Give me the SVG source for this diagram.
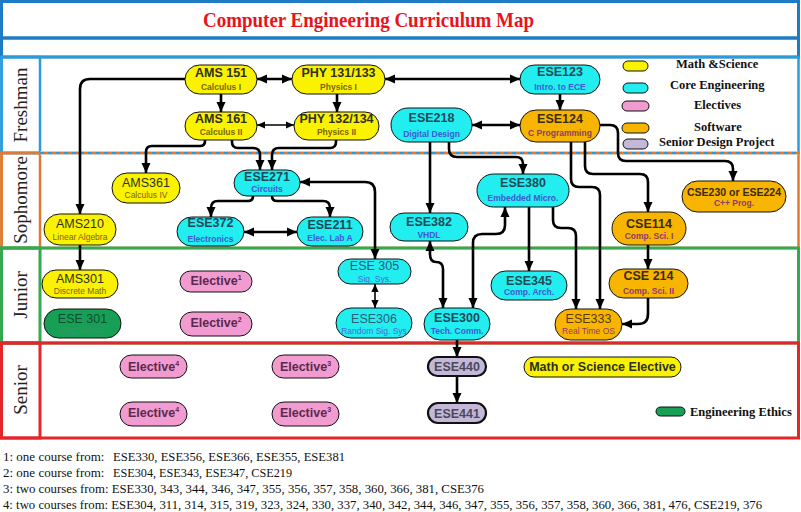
<svg xmlns="http://www.w3.org/2000/svg" width="801" height="512" viewBox="0 0 801 512">
<style>
.lane{fill:none}
.lbl{font-family:"Liberation Serif","Times New Roman",serif;font-size:19px;fill:#222}
.n{stroke:#111;stroke-width:1}
.y{fill:#fbf200}.c{fill:#22eef0}.o{fill:#f8b500}.p{fill:#f29bd0}.v{fill:#c4b8d8;stroke-width:2.2}.g{fill:#17a055}
.t{font-family:"Liberation Sans",Arial,sans-serif;font-size:12.5px;font-weight:bold;text-anchor:middle}
.tr{font-family:"Liberation Sans",Arial,sans-serif;font-size:12.5px;text-anchor:middle}
.s{font-family:"Liberation Sans",Arial,sans-serif;font-size:8.5px;font-weight:bold;text-anchor:middle}
.sr{font-family:"Liberation Sans",Arial,sans-serif;font-size:8.5px;text-anchor:middle}
.ty{fill:#2e2e22}.sy{fill:#7d6400}
.tc{fill:#1e4a58}.sc{fill:#3c5ad2}
.to{fill:#3a2a12}.so{fill:#8e3a6a}
.tp{fill:#5a2a4e}
.leg{font-family:"Liberation Serif","Times New Roman",serif;font-size:12.5px;font-weight:bold;fill:#111}
.fn{font-family:"Liberation Serif","Times New Roman",serif;font-size:13px;fill:#111}
.k{fill:none;stroke:#000;stroke-width:2.6;stroke-linejoin:round}
.kt{fill:none;stroke:#000;stroke-width:1.6}
</style>
<defs>
<marker id="ah" markerUnits="userSpaceOnUse" viewBox="0 0 10 10" markerWidth="10" markerHeight="10" refX="10" refY="5" orient="auto-start-reverse"><path d="M0,0.5 L10,5 L0,9.5 z" fill="#000"/></marker>
<marker id="as" markerUnits="userSpaceOnUse" viewBox="0 0 10 10" markerWidth="8" markerHeight="8" refX="10" refY="5" orient="auto-start-reverse"><path d="M0,0.5 L10,5 L0,9.5 z" fill="#000"/></marker>
</defs>
<rect width="801" height="512" fill="#fff"/>

<g id="frame">
<rect class="lane" x="1.5" y="1.5" width="797" height="36.5" stroke="#1f7cc4" stroke-width="3"/>
<rect class="lane" x="1.5" y="38" width="797" height="19" stroke="#1f7cc4" stroke-width="3"/>
<rect class="lane" x="1.5" y="57" width="797" height="96" stroke="#2b9bdc" stroke-width="2.5"/>
<rect class="lane" x="1.5" y="57" width="38.5" height="96" stroke="#2b9bdc" stroke-width="2.5"/>
<rect class="lane" x="1.5" y="153" width="797" height="95" stroke="#e07a30" stroke-width="2.5"/>
<rect class="lane" x="1.5" y="153" width="38.5" height="95" stroke="#e07a30" stroke-width="2.5"/>
<line x1="40" y1="153" x2="798" y2="153" stroke="#fff" stroke-width="3"/>
<line x1="40" y1="153" x2="798" y2="153" stroke="#2b9bdc" stroke-width="2.5" stroke-dasharray="4 4"/>
<line x1="40" y1="153" x2="798" y2="153" stroke="#e07a30" stroke-width="2.5" stroke-dasharray="4 4" stroke-dashoffset="4"/>
<rect class="lane" x="1.5" y="248" width="797" height="95" stroke="#36a84f" stroke-width="3"/>
<rect class="lane" x="1.5" y="248" width="38.5" height="95" stroke="#36a84f" stroke-width="3"/>
<rect class="lane" x="1.5" y="343" width="797" height="95" stroke="#e3262a" stroke-width="3"/>
<rect class="lane" x="1.5" y="343" width="38.5" height="95" stroke="#e3262a" stroke-width="3"/>
<text x="368.5" y="26.5" text-anchor="middle" font-family="Liberation Serif, Times New Roman, serif" font-size="21" font-weight="bold" fill="#e8141c" textLength="331" lengthAdjust="spacingAndGlyphs">Computer Engineering Curriculum Map</text>
<text class="lbl" text-anchor="middle" transform="translate(27,105) rotate(-90)">Freshman</text>
<text class="lbl" text-anchor="middle" transform="translate(27,200) rotate(-90)">Sophomore</text>
<text class="lbl" text-anchor="middle" transform="translate(27,295) rotate(-90)">Junior</text>
<text class="lbl" text-anchor="middle" transform="translate(27,390) rotate(-90)">Senior</text>
</g>

<g id="legend">
<rect class="n y" x="623" y="61" width="25" height="10" rx="5"/><text class="leg" x="676" y="68">Math &amp;Science</text>
<rect class="n c" x="623" y="83" width="25" height="10" rx="5"/><text class="leg" x="670" y="89">Core Engineering</text>
<rect class="n p" x="622" y="101" width="27" height="10" rx="5"/><text class="leg" x="694" y="109">Electives</text>
<rect class="n o" x="622" y="123" width="27" height="10" rx="5"/><text class="leg" x="694" y="131">Software</text>
<rect class="n" fill="#c4b8d8" x="623" y="139" width="25" height="10" rx="5"/><text class="leg" x="659" y="146">Senior Design Project</text>
<rect class="n g" x="656" y="407" width="29" height="9" rx="4.5"/><text class="leg" x="690" y="416">Engineering Ethics</text>
</g>

<g id="connectors">
<path class="k" d="M185,79 H90 Q80,79 80,89 V214" marker-end="url(#ah)"/>
<path class="k" d="M257,79 H292" marker-start="url(#ah)" marker-end="url(#ah)"/>
<path class="k" d="M385,79 H520" marker-start="url(#ah)" marker-end="url(#ah)"/>
<path class="k" d="M221,94 V112" marker-end="url(#ah)"/>
<path class="k" d="M337,94 V112" marker-end="url(#ah)"/>
<path class="kt" d="M257,125 H294" marker-start="url(#as)" marker-end="url(#as)"/>
<path class="k" d="M560,94 V110" marker-end="url(#ah)"/>
<path class="k" d="M472,125 H520" marker-start="url(#ah)" marker-end="url(#ah)"/>
<path class="k" d="M205,140 V141 Q205,146 200,146 H152 Q146,146 146,152 V173" marker-end="url(#ah)"/>
<path class="k" d="M232,140 V142 Q232,148 238,148 H253 Q260,148 260,155 V170" marker-end="url(#ah)"/>
<path class="k" d="M336,140 V142 Q336,148 330,148 H279 Q272,148 272,155 V170" marker-end="url(#ah)"/>
<path class="k" d="M253,196 V196 Q253,201 248,201 H218 Q211,201 211,208 V217" marker-end="url(#ah)"/>
<path class="k" d="M272,196 V196 Q272,201 277,201 H323 Q330,201 330,208 V217" marker-end="url(#ah)"/>
<path class="k" d="M244,232 H297" marker-start="url(#ah)" marker-end="url(#ah)"/>
<path class="k" d="M300,182 H365 Q375,182 375,192 V259" marker-start="url(#ah)" marker-end="url(#ah)"/>
<path class="kt" d="M375,284 V308" marker-start="url(#as)" marker-end="url(#as)"/>
<path class="k" d="M80,245 V270" marker-end="url(#ah)"/>
<path class="k" d="M430,142 V213" marker-end="url(#ah)"/>
<path class="k" d="M449,142 V149 Q449,157 457,157 H516 Q523,157 523,164 V174" marker-end="url(#ah)"/>
<path class="k" d="M600,125 H610 Q618,125 618,133 V153 Q618,161 626,161 H725 Q733,161 733,169 V181" marker-end="url(#ah)"/>
<path class="k" d="M585,142 V166 Q585,174 593,174 H640 Q648,174 648,182 V212" marker-end="url(#ah)"/>
<path class="k" d="M571,142 V179 Q571,187 579,187 H592 Q600,187 600,195 V309" marker-end="url(#ah)"/>
<path class="k" d="M553,207 V220 Q553,228 561,228 H568 Q576,228 576,236 V309" marker-end="url(#ah)"/>
<path class="k" d="M529,207 V271" marker-end="url(#ah)"/>
<path class="k" d="M505,207 V225 Q505,234 496,234 H482 Q473,234 473,243 V308" marker-start="url(#ah)" marker-end="url(#ah)"/>
<path class="k" d="M430,241 V254 Q430,262 436,262 Q443,262 443,269 V308" marker-start="url(#ah)" marker-end="url(#ah)"/>
<path class="k" d="M648,245 V269" marker-end="url(#ah)"/>
<path class="k" d="M648,298 V314 Q648,324 638,324 H622" marker-end="url(#ah)"/>
<path class="k" d="M457,340 V357" marker-end="url(#ah)"/>
<path class="k" d="M457,376 V403" marker-end="url(#ah)"/>
</g>

<g id="ams151"><rect class="n y" x="185" y="65" width="72" height="29" rx="14.5"/><text class="t ty" x="221" y="77">AMS 151</text><text class="s sy" x="221" y="90">Calculus I</text></g>
<g id="phy131"><rect class="n y" x="292" y="65" width="93" height="29" rx="14.5"/><text class="t ty" x="338.5" y="77">PHY 131/133</text><text class="s sy" x="338.5" y="90">Physics I</text></g>
<g id="ams161"><rect class="n y" x="185" y="112" width="72" height="28" rx="14"/><text class="t ty" x="221" y="123">AMS 161</text><text class="s sy" x="221" y="135">Calculus II</text></g>
<g id="phy132"><rect class="n y" x="294" y="112" width="85" height="28" rx="14"/><text class="t ty" x="336.5" y="123">PHY 132/134</text><text class="s sy" x="336.5" y="135">Physics II</text></g>
<g id="ese123"><rect class="n c" x="520" y="65" width="80" height="29" rx="14.5"/><text class="t tc" x="560" y="76">ESE123</text><text class="s sc" x="560" y="90">Intro. to ECE</text></g>
<g id="ese218"><rect class="n c" x="391" y="108" width="81" height="34" rx="17"/><text class="t tc" x="431.5" y="122">ESE218</text><text class="s sc" x="431.5" y="137">Digital Design</text></g>
<g id="ese124"><rect class="n o" x="520" y="110" width="80" height="32" rx="16"/><text class="t to" x="560" y="123">ESE124</text><text class="s so" x="560" y="136">C Programming</text></g>

<g id="ams361"><rect class="n y" x="112" y="173" width="68" height="30" rx="15"/><text class="tr ty" x="146" y="187">AMS361</text><text class="sr sy" x="146" y="198">Calculus IV</text></g>
<g id="ese271"><rect class="n c" x="234" y="170" width="66" height="26" rx="13"/><text class="t tc" x="267" y="181">ESE271</text><text class="s sc" x="267" y="192">Circuits</text></g>
<g id="ams210"><rect class="n y" x="44" y="214" width="72" height="31" rx="15.5"/><text class="tr ty" x="80" y="228">AMS210</text><text class="sr sy" x="80" y="240">Linear Algebra</text></g>
<g id="ese372"><rect class="n c" x="177" y="217" width="67" height="29" rx="14.5"/><text class="t tc" x="210.5" y="227">ESE372</text><text class="s sc" x="210.5" y="242">Electronics</text></g>
<g id="ese211"><rect class="n c" x="297" y="217" width="66" height="29" rx="14.5"/><text class="t tc" x="330" y="229">ESE211</text><text class="s sc" x="330" y="241">Elec. Lab A</text></g>
<g id="ese382"><rect class="n c" x="390" y="213" width="78" height="28" rx="14"/><text class="t tc" x="429" y="226">ESE382</text><text class="s sc" x="429" y="238">VHDL</text></g>
<g id="ese380"><rect class="n c" x="477" y="174" width="92" height="33" rx="16.5"/><text class="t tc" x="523" y="187">ESE380</text><text class="s sc" x="523" y="201">Embedded Micro.</text></g>
<g id="cse114"><rect class="n o" x="612" y="212" width="74" height="33" rx="16.5"/><text class="t to" x="649" y="228">CSE114</text><text class="s so" x="649" y="239">Comp. Sci. I</text></g>
<g id="cse230"><rect class="n o" x="682" y="181" width="104" height="31" rx="15.5"/><text class="t to" x="734" y="196" style="font-size:10.5px">CSE230 or ESE224</text><text class="s so" x="734" y="206">C++ Prog.</text></g>

<g id="ams301"><rect class="n y" x="42" y="270" width="76" height="28" rx="14"/><text class="tr ty" x="80" y="283">AMS301</text><text class="sr sy" x="80" y="294">Discrete Math</text></g>
<g id="ese301"><rect class="n g" x="44" y="309" width="77" height="29" rx="14.5"/><text class="tr" x="82.5" y="323" fill="#0d4d33">ESE 301</text><text class="sr" x="82.5" y="333" fill="#2f9a6a">Eng. Ethics</text></g>
<g id="elective1"><rect class="n p" x="180" y="271" width="72" height="21" rx="10.5"/><text class="t tp" x="216" y="285">Elective<tspan dy="-5" font-size="7">1</tspan></text></g>
<g id="elective2"><rect class="n p" x="180" y="312" width="72" height="24" rx="12"/><text class="t tp" x="216" y="327">Elective<tspan dy="-5" font-size="7">2</tspan></text></g>
<g id="ese305"><rect class="n c" x="338" y="259" width="73" height="25" rx="12.5"/><text class="tr" x="374.5" y="270" fill="#2a6078">ESE 305</text><text class="sr" x="374.5" y="282" fill="#4a6ad8">Sig. Sys.</text></g>
<g id="ese306"><rect class="n c" x="336" y="308" width="76" height="30" rx="15"/><text class="tr" x="374" y="323" fill="#2a6078">ESE306</text><text class="sr" x="374" y="334" fill="#4a6ad8">Random Sig. Sys</text></g>
<g id="ese300"><rect class="n c" x="424" y="308" width="66" height="32" rx="16"/><text class="t tc" x="457" y="322">ESE300</text><text class="s sc" x="457" y="334">Tech. Comm.</text></g>
<g id="ese345"><rect class="n c" x="491" y="271" width="76" height="29" rx="14.5"/><text class="t tc" x="529" y="285">ESE345</text><text class="s sc" x="529" y="295">Comp. Arch.</text></g>
<g id="cse214"><rect class="n o" x="609" y="269" width="79" height="29" rx="14.5"/><text class="t to" x="648.5" y="280">CSE 214</text><text class="s so" x="648.5" y="294">Comp. Sci. II</text></g>
<g id="ese333"><rect class="n o" x="555" y="309" width="67" height="31" rx="15.5"/><text class="tr" x="588.5" y="323" fill="#5a3a12">ESE333</text><text class="sr so" x="588.5" y="334">Real Time OS</text></g>

<g id="elective4a"><rect class="n p" x="120" y="355" width="67" height="23" rx="11.5"/><text class="t tp" x="153.5" y="371">Elective<tspan dy="-5" font-size="7">4</tspan></text></g>
<g id="elective3a"><rect class="n p" x="272" y="355" width="67" height="23" rx="11.5"/><text class="t tp" x="305.5" y="371">Elective<tspan dy="-5" font-size="7">3</tspan></text></g>
<g id="elective4b"><rect class="n p" x="120" y="402" width="67" height="24" rx="12"/><text class="t tp" x="153.5" y="417">Elective<tspan dy="-5" font-size="7">4</tspan></text></g>
<g id="elective3b"><rect class="n p" x="272" y="402" width="67" height="24" rx="12"/><text class="t tp" x="305.5" y="417">Elective<tspan dy="-5" font-size="7">3</tspan></text></g>
<g id="ese440"><rect class="n v" x="428" y="357" width="58" height="19" rx="9.5"/><text class="t" x="457" y="371" fill="#4a4858">ESE440</text></g>
<g id="ese441"><rect class="n v" x="428" y="403" width="58" height="20" rx="10"/><text class="t" x="457" y="418" fill="#4a4858">ESE441</text></g>
<g id="mathsci"><rect class="n y" x="524" y="357" width="157" height="20" rx="10"/><text class="t ty" x="602.5" y="371">Math or Science Elective</text></g>

<g id="footnotes">
<text class="fn" y="461"><tspan x="3">1: one course from:</tspan><tspan x="113" textLength="232" lengthAdjust="spacingAndGlyphs">ESE330, ESE356, ESE366, ESE355, ESE381</tspan></text>
<text class="fn" y="477"><tspan x="3">2: one course from:</tspan><tspan x="113" textLength="179" lengthAdjust="spacingAndGlyphs">ESE304, ESE343, ESE347, CSE219</tspan></text>
<text class="fn" x="3" y="493" textLength="481" lengthAdjust="spacingAndGlyphs">3: two courses from: ESE330, 343, 344, 346, 347, 355, 356, 357, 358, 360, 366, 381, CSE376</text>
<text class="fn" x="3" y="509" textLength="759" lengthAdjust="spacingAndGlyphs">4: two courses from: ESE304, 311, 314, 315, 319, 323, 324, 330, 337, 340, 342, 344, 346, 347, 355, 356, 357, 358, 360, 366, 381, 476, CSE219, 376</text>
</g>
</svg>
